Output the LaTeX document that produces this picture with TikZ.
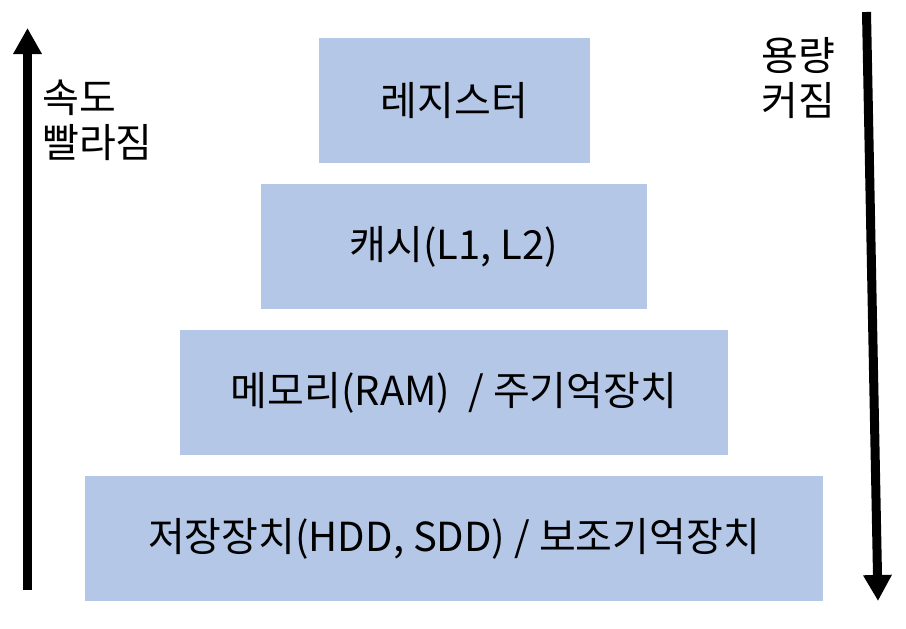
\documentclass[tikz,border=0pt]{standalone}
\usepackage{fontspec}
\setmainfont{Noto Sans CJK KR}
\usetikzlibrary{arrows.meta}
\definecolor{boxblue}{HTML}{B4C7E7}
\begin{document}
\begin{tikzpicture}[x=1pt,y=-1pt,
  level/.style={fill=boxblue,draw=none,minimum height=125pt,inner sep=0pt,font=\fontsize{40}{46}\selectfont},
  side/.style={align=left,anchor=base west,inner sep=0pt,font=\fontsize{40}{45}\selectfont},
  bigarrow/.style={line width=9pt,-{Triangle[length=26pt,width=27pt]}}]
\useasboundingbox (0,0) rectangle (906,629);
\node[level,minimum width=271pt] (reg) at (454.5,100.5) {레지스터};
\node[level,minimum width=386pt] (cache) at (454,246.5) {캐시(L1, L2)};
\node[level,minimum width=548pt] (mem) at (454,392.5) {메모리(RAM)\ \ / 주기억장치};
\node[level,minimum width=738pt] (disk) at (454,538.5) {저장장치(HDD, SDD) / 보조기억장치};
\coordinate (lbot) at (27.5,590);
\coordinate (ltop) at (27.5,28);
\coordinate (rtop) at (866.5,12);
\coordinate (rbot) at (878,601);
\draw[bigarrow] (lbot) -- (ltop);
\draw[bigarrow] (rtop) -- (rbot);
\node[side] (speed) at (42,157) {속도\\빨라짐};
\node[side] (cap) at (761,115) {용량\\커짐};
\end{tikzpicture}
\end{document}
